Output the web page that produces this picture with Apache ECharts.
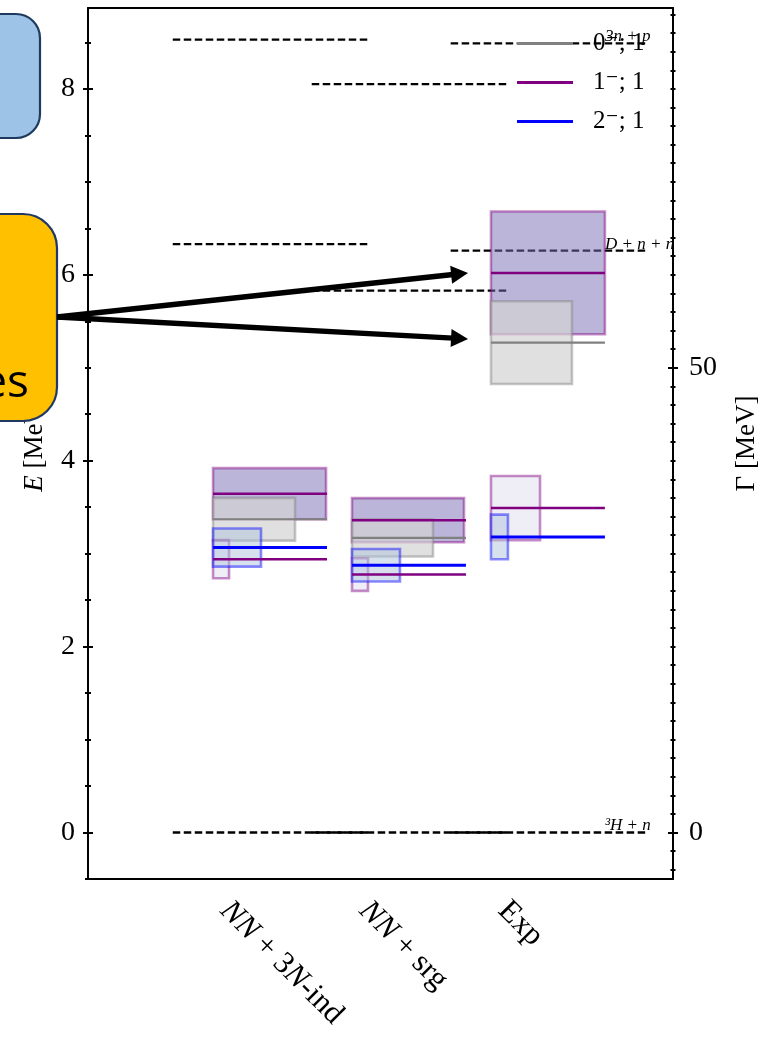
<!DOCTYPE html>
<html>
<head>
<meta charset="utf-8">
<script src="https://cdn.jsdelivr.net/npm/echarts@6/dist/echarts.min.js"></script>
<style>
html,body{margin:0;padding:0;background:#fff;overflow:hidden;}
#chart{width:765px;height:1037px;}
</style>
</head>
<body>
<div id="chart"></div>
<script>
// ---------------- data ----------------
const categories = ['NN + 3N-ind', 'NN + srg', 'Exp'];
const colPos = [1, 2, 3];                 // x position of each column
const levelLen = 0.82;                    // length of a level line (x units)
// 0-;1 states (gray)
const s0E = [3.37, 3.17, 5.27];
const s0G = [0.46, 0.40, 0.89];
const s0W = [0.59, 0.583, 0.583];
// 1-;1 states (purple, main)
const s1E = [3.645, 3.36, 6.02];
const s1G = [0.55, 0.475, 1.32];
const s1W = [0.813, 0.806, 0.82];
// 1-;1 states (purple, second)
const s1bE = [2.94, 2.775, 3.49];
const s1bG = [0.41, 0.35, 0.69];
const s1bW = [0.115, 0.115, 0.353];
// 2-;1 states (blue)
const s2E = [3.065, 2.875, 3.18];
const s2G = [0.41, 0.35, 0.48];
const s2W = [0.345, 0.345, 0.122];
// thresholds per column
const thrE = [[8.53, 6.33, 0], [8.05, 5.83, 0], [8.49, 6.26, 0]];
const thrLabels = ['3n + p', 'D + n + n', '\u00B3H + n'];
const legendNames = ['0\u207B; 1', '1\u207B; 1', '2\u207B; 1'];
const eTicks = [0, 2, 4, 6, 8];
const gTicks = [0, 50];
const arrowTargetE = [6.02, 5.31];

// ---------------- helpers ----------------
const SERIF = '"Liberation Serif", "DejaVu Serif", serif';
function boxData(E, G, W) {
  return colPos.map((p, i) => [p, p + W[i], E[i], G[i]]);
}
function lineData(E) {
  return colPos.map((p, i) => [p, p + levelLen, E[i]]);
}
function thrData() {
  const out = [];
  colPos.forEach((p, i) => thrE[i].forEach(e => out.push([p - 0.29, p + 1.11, e])));
  return out;
}
function boxSeries(data, fill, stroke, z) {
  return {
    type: 'custom', xAxisIndex: 0, yAxisIndex: 0, z: z, clip: true,
    data: data,
    renderItem: function (params, api) {
      const p0 = api.coord([api.value(0), api.value(2) + api.value(3) / 2]);
      const p1 = api.coord([api.value(1), api.value(2) - api.value(3) / 2]);
      return {
        type: 'rect',
        shape: { x: p0[0], y: p0[1], width: p1[0] - p0[0], height: p1[1] - p0[1] },
        style: { fill: fill, stroke: stroke, lineWidth: 2.6 }
      };
    }
  };
}
function levelSeries(data, color, width, z) {
  return {
    type: 'custom', xAxisIndex: 0, yAxisIndex: 0, z: z, clip: true,
    data: data,
    renderItem: function (params, api) {
      const a = api.coord([api.value(0), api.value(2)]);
      const b = api.coord([api.value(1), api.value(2)]);
      return {
        type: 'line',
        shape: { x1: a[0], y1: a[1], x2: b[0], y2: b[1] },
        style: { stroke: color, lineWidth: width }
      };
    }
  };
}
const minorE = []; for (let v = -0.5; v <= 8.51; v += 0.5) minorE.push(+v.toFixed(2));
const minorG = []; for (let v = -4; v <= 88; v += 2) minorG.push(v);

function yAx(opts) {
  return Object.assign({
    type: 'value', splitLine: { show: false },
    axisLine: { show: false },
    axisLabel: { show: false },
    axisTick: { show: false }
  }, opts);
}
const eRange = { min: -0.5, max: 8.87 };
const gRange = { min: -5, max: 88.7 };
const tickStyle = { color: '#000', width: 2 };

const yAxes = [
  yAx(Object.assign({}, eRange, {
    position: 'left',
    axisLine: { show: true, lineStyle: { color: '#000', width: 2 } },
    axisTick: { show: true, customValues: eTicks, length: 5, lineStyle: tickStyle },
    axisLabel: { show: true, customValues: eTicks, margin: 13, color: '#000', fontFamily: SERIF, fontSize: 28 },
    name: '{i|E} [MeV]', nameLocation: 'middle', nameRotate: 90, nameGap: 40,
    nameTextStyle: { color: '#000', fontFamily: SERIF, fontSize: 27,
      rich: { i: { fontStyle: 'italic', fontFamily: SERIF, fontSize: 27, color: '#000' } } }
  })),
  yAx(Object.assign({}, eRange, { position: 'left',
    axisTick: { show: true, inside: true, customValues: eTicks, length: 5, lineStyle: tickStyle } })),
  yAx(Object.assign({}, eRange, { position: 'left',
    axisTick: { show: true, customValues: minorE, length: 3, lineStyle: tickStyle } })),
  yAx(Object.assign({}, eRange, { position: 'left',
    axisTick: { show: true, inside: true, customValues: minorE, length: 3, lineStyle: tickStyle } })),
  yAx(Object.assign({}, gRange, {
    position: 'right',
    axisLine: { show: true, lineStyle: { color: '#000', width: 2 } },
    axisTick: { show: true, customValues: gTicks, length: 5, lineStyle: tickStyle },
    axisLabel: { show: true, customValues: gTicks, margin: 16, color: '#000', fontFamily: SERIF, fontSize: 28 },
    name: '\u0393 [MeV]', nameLocation: 'middle', nameRotate: 90, nameGap: 60,
    nameTextStyle: { color: '#000', fontFamily: SERIF, fontSize: 27 }
  })),
  yAx(Object.assign({}, gRange, { position: 'right',
    axisTick: { show: true, inside: true, customValues: gTicks, length: 5, lineStyle: tickStyle } })),
  yAx(Object.assign({}, gRange, { position: 'right',
    axisTick: { show: true, customValues: minorG, length: 2.5, lineStyle: tickStyle } })),
  yAx(Object.assign({}, gRange, { position: 'right',
    axisTick: { show: true, inside: true, customValues: minorG, length: 2.5, lineStyle: tickStyle } }))
];

const xRange = { min: 0.1, max: 4.31 };
const labelShift = 0.085;   // label anchor offset from the column start
const xAxes = [
  Object.assign({}, xRange, {
    type: 'value', position: 'bottom', splitLine: { show: false },
    axisLine: { show: true, onZero: false, lineStyle: { color: '#000', width: 2 } },
    axisTick: { show: false },
    axisLabel: {
      show: true, customValues: colPos.map(p => p + labelShift), rotate: -45, margin: 27,
      color: '#000', fontFamily: SERIF, fontSize: 31,
      formatter: function (v) {
        const idx = colPos.indexOf(Math.round(v));
        if (idx < 0) return '';
        return categories[idx].replace(/N/g, '{i|N}');
      },
      rich: { i: { fontStyle: 'italic', fontFamily: SERIF, fontSize: 31, color: '#000' } }
    }
  }),
  Object.assign({}, xRange, {
    type: 'value', position: 'top', splitLine: { show: false },
    axisLine: { show: true, onZero: false, lineStyle: { color: '#000', width: 2 } },
    axisTick: { show: false }, axisLabel: { show: false }
  })
];

const PURPLE = '#800080', GRAY = '#808080', BLUE = '#0000ff';

const series = [
  // thresholds
  {
    type: 'custom', xAxisIndex: 0, yAxisIndex: 0, z: 2, clip: true,
    data: thrData(),
    renderItem: function (params, api) {
      const a = api.coord([api.value(0), api.value(2)]);
      const b = api.coord([api.value(1), api.value(2)]);
      return {
        type: 'line',
        shape: { x1: a[0], y1: a[1], x2: b[0], y2: b[1] },
        style: { stroke: '#000', lineWidth: 2.3, lineDash: [7.5, 3.5] }
      };
    }
  },
  // threshold labels (last column)
  {
    type: 'custom', xAxisIndex: 0, yAxisIndex: 0, z: 3, clip: false,
    data: thrE[2].map((e, i) => [colPos[2] + levelLen, e, i]),
    renderItem: function (params, api) {
      const p = api.coord([api.value(0), api.value(1)]);
      return {
        type: 'text',
        style: { x: p[0], y: p[1] + 2, text: thrLabels[api.value(2)], align: 'left', verticalAlign: 'bottom',
          fontFamily: SERIF, fontStyle: 'italic', fontSize: 17, fill: '#000' }
      };
    }
  },
  boxSeries(boxData(s1E, s1G, s1W), 'rgba(120,110,180,0.5)', 'rgba(128,0,128,0.45)', 4),
  boxSeries(boxData(s0E, s0G, s0W), 'rgba(211,211,211,0.7)', 'rgba(128,128,128,0.45)', 5),
  boxSeries(boxData(s1bE, s1bG, s1bW), 'rgba(120,110,180,0.12)', 'rgba(128,0,128,0.45)', 6),
  boxSeries(boxData(s2E, s2G, s2W), 'rgba(176,196,222,0.5)', 'rgba(0,0,255,0.45)', 7),
  levelSeries(lineData(s0E), GRAY, 2.2, 8),
  levelSeries(lineData(s1E), PURPLE, 2.5, 9),
  levelSeries(lineData(s1bE), PURPLE, 2.5, 9),
  levelSeries(lineData(s2E), BLUE, 3, 10),
  // legend entries
  { type: 'line', name: legendNames[0], data: [], symbol: 'none', itemStyle: { color: GRAY } },
  { type: 'line', name: legendNames[1], data: [], symbol: 'none', itemStyle: { color: PURPLE } },
  { type: 'line', name: legendNames[2], data: [], symbol: 'none', itemStyle: { color: BLUE } }
];

const chart = echarts.init(document.getElementById('chart'), null, { renderer: 'canvas' });
chart.setOption({
  backgroundColor: '#fff',
  animation: false,
  grid: { left: 88, right: 92, top: 8, bottom: 158, containLabel: false, outerBoundsMode: 'none' },
  xAxis: xAxes,
  yAxis: yAxes,
  legend: {
    data: legendNames, orient: 'vertical', left: 517, top: 31, padding: 0,
    icon: 'rect', itemWidth: 56, itemHeight: 3, itemGap: 14,
    textStyle: { color: '#000', fontFamily: SERIF, fontSize: 25, lineHeight: 25, padding: [0, 0, 0, 15] },
    selectedMode: false
  },
  series: series
});

// ---------------- overlay annotations ----------------
const start = [57, 317];
function arrow(tip) {
  const dx = tip[0] - start[0], dy = tip[1] - start[1];
  const L = Math.sqrt(dx * dx + dy * dy), ux = dx / L, uy = dy / L;
  const hl = 17, hw = 9;
  const bx = tip[0] - ux * hl, by = tip[1] - uy * hl;
  return [
    { type: 'line', z: 100, shape: { x1: start[0], y1: start[1], x2: bx + ux * 2, y2: by + uy * 2 },
      style: { stroke: '#000', lineWidth: 5.5 } },
    { type: 'polygon', z: 100, shape: { points: [tip, [bx - uy * hw, by + ux * hw], [bx + uy * hw, by - ux * hw]] },
      style: { fill: '#000' } }
  ];
}
const tips = arrowTargetE.map(e => chart.convertToPixel({ xAxisIndex: 0, yAxisIndex: 0 }, [colPos[2] - 0.165, e]));
chart.setOption({
  graphic: [
    { type: 'rect', z: 100, shape: { x: -40, y: 14, width: 80, height: 124, r: 24 },
      style: { fill: '#9DC3E6', stroke: '#1F3A5F', lineWidth: 2.2 } },
    { type: 'rect', z: 100, shape: { x: -40, y: 214, width: 97, height: 207, r: 34 },
      style: { fill: '#FFC000', stroke: '#203864', lineWidth: 2.2 } },
    { type: 'text', z: 101, style: { x: 29, y: 384, text: 'es', align: 'right', verticalAlign: 'middle',
      fontFamily: '"Open Sans", "Noto Sans", sans-serif', fontSize: 46, fill: '#000' } }
  ].concat(arrow(tips[0])).concat(arrow(tips[1]))
});
</script>
</body>
</html>
